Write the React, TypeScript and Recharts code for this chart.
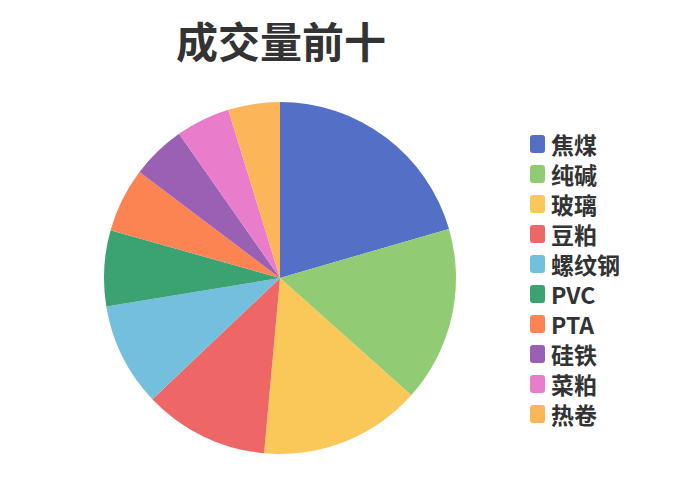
import React from "react";
import { PieChart, Pie, Cell, Legend } from "recharts";

const names = ["焦煤", "纯碱", "玻璃", "豆粕", "螺纹钢", "PVC", "PTA", "硅铁", "菜粕", "热卷"];
const volumes = [738, 580, 534, 413, 342, 250, 213, 180, 179, 171];
const colors = [
  "#5470c6",
  "#91cc75",
  "#fac858",
  "#ee6666",
  "#73c0de",
  "#3ba272",
  "#fc8452",
  "#9a60b4",
  "#ea7ccc",
  "#fdb55a",
];

const data = names.map((name, i) => ({ name, value: volumes[i] }));

const FONT = '"Noto Sans CJK SC", "Noto Sans", sans-serif';

const renderLegend = () => (
  <div style={{ fontFamily: FONT }}>
    {names.map((name, i) => (
      <div key={name} style={{ display: "flex", alignItems: "center", height: 30 }}>
        <span
          style={{
            display: "inline-block",
            width: 15,
            height: 18,
            borderRadius: 3,
            background: colors[i],
            marginRight: 6,
          }}
        />
        <span
          style={{
            display: "inline-block",
            fontSize: 23,
            fontWeight: 700,
            color: "#333",
            lineHeight: "24px",
            height: 24,
          }}
        >
          {name}
        </span>
      </div>
    ))}
  </div>
);

export default function App() {
  return (
    <div style={{ position: "absolute", left: 0, top: 0, width: 700, height: 500, background: "#fff" }}>
      <div
        style={{
          position: "absolute",
          left: 0,
          top: 10,
          width: 562,
          textAlign: "center",
          fontFamily: FONT,
          fontSize: 42,
          fontWeight: 700,
          color: "#333",
          lineHeight: "60px",
          zIndex: 1,
        }}
      >
        成交量前十
      </div>
      <PieChart width={700} height={500} margin={{ top: 0, right: 0, bottom: 0, left: 0 }}>
        <Pie
          data={data}
          dataKey="value"
          nameKey="name"
          cx={280}
          cy={278}
          outerRadius={176}
          startAngle={90}
          endAngle={-270}
          stroke="none"
          isAnimationActive={false}
        >
          {data.map((d, i) => (
            <Cell key={d.name} fill={colors[i]} />
          ))}
        </Pie>
        <Legend
          layout="vertical"
          content={renderLegend}
          wrapperStyle={{ left: 530, top: 129, width: 120 }}
        />
      </PieChart>
    </div>
  );
}
